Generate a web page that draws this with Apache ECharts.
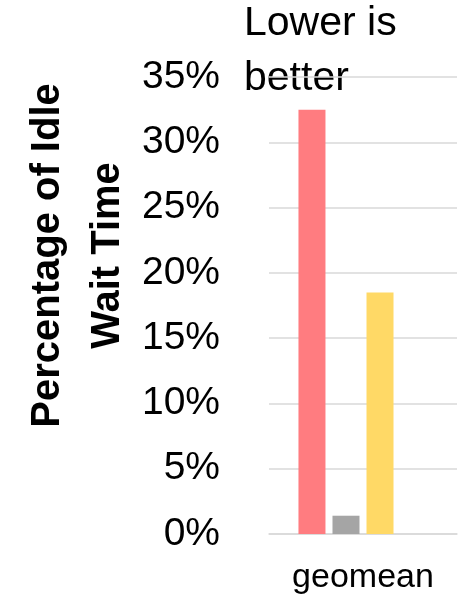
<!DOCTYPE html>
<html>
<head>
<meta charset="utf-8">
<script src="https://cdn.jsdelivr.net/npm/echarts@6/dist/echarts.min.js"></script>
<style>html,body{margin:0;padding:0;background:#fff;}#c{width:470px;height:600px;}</style>
</head>
<body>
<div id="c"></div>
<script>
const categories = ['geomean'];
const seriesNames = ['Config A', 'Config B', 'Config C', 'Config D'];
const seriesA = [32.5];
const seriesB = [1.4];
const seriesC = [18.5];
const seriesD = [null];
const yTicks = [0, 5, 10, 15, 20, 25, 30, 35];
const yTitle = 'Percentage of Idle\nWait Time';
const note = 'Lower is\nbetter';
const colors = ['#FF7C80', '#A5A5A5', '#FFD966', '#5B9BD5'];

const FONT = '"Liberation Sans", Arial, sans-serif';
const chart = echarts.init(document.getElementById('c'), null, {renderer: 'canvas'});
const allSeries = [seriesA, seriesB, seriesC, seriesD];
chart.setOption({
  animation: false,
  backgroundColor: '#fff',
  grid: {left: 269, right: 13, top: 77, bottom: 66, containLabel: false, outerBoundsMode: 'none'},
  xAxis: {
    type: 'category',
    data: categories,
    axisLine: {show: true, lineStyle: {color: '#d9d9d9', width: 1.5}},
    axisTick: {show: false},
    axisLabel: {color: '#000', fontFamily: FONT, fontSize: 34, margin: 27}
  },
  yAxis: {
    type: 'value',
    min: yTicks[0],
    max: yTicks[yTicks.length - 1],
    interval: 5,
    name: yTitle,
    nameLocation: 'middle',
    nameGap: 130,
    nameTextStyle: {color: '#000', fontFamily: FONT, fontWeight: 'bold', fontSize: 40, lineHeight: 60, padding: [0, 0, 0, 100]},
    axisLine: {show: false},
    axisTick: {show: false},
    splitLine: {show: true, lineStyle: {color: '#d9d9d9', width: 1.5}},
    axisLabel: {color: '#000', fontFamily: FONT, fontSize: 39, margin: 49, formatter: v => v + '%'}
  },
  series: allSeries.map((d, i) => ({
    name: seriesNames[i],
    type: 'bar',
    data: d,
    barWidth: 27,
    barGap: '26%',
    itemStyle: {color: colors[i]}
  })),
  graphic: [{
    type: 'text',
    left: 244,
    top: -4,
    style: {text: note, fill: '#000', font: '41px ' + FONT, lineHeight: 55}
  }]
});
</script>
</body>
</html>
